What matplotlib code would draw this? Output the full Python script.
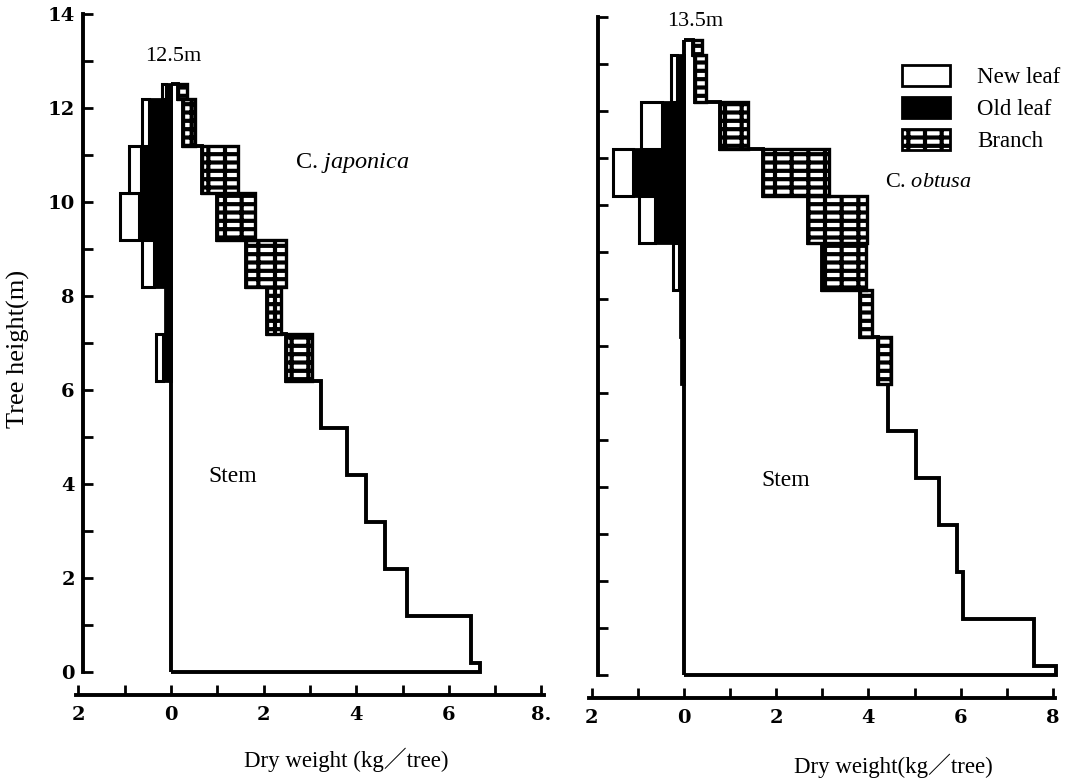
import matplotlib
matplotlib.use('Agg')
import matplotlib.pyplot as plt
from matplotlib.patches import Patch
from matplotlib.ticker import FixedLocator, MultipleLocator
import numpy as np

plt.rcParams['font.family'] = ['Liberation Serif', 'Noto Sans CJK JP']
plt.rcParams['mathtext.fontset'] = 'custom'
plt.rcParams['mathtext.rm'] = 'Liberation Serif'
plt.rcParams['mathtext.it'] = 'Liberation Serif:italic'
plt.rcParams['hatch.linewidth'] = 3.0

# ---------------- data ----------------
jap_edges = [0, 0.2, 1.2, 2.2, 3.2, 4.2, 5.2, 6.2, 7.2, 8.2, 9.2, 10.2, 11.2, 12.2, 12.5]
jap_stem = [6.68, 6.49, 5.09, 4.63, 4.22, 3.81, 3.25, 2.48, 2.07, 1.62, 0.99, 0.67, 0.26, 0.15]
jap_branch = [0, 0, 0, 0, 0, 0, 0, 0.56, 0.30, 0.86, 0.82, 0.77, 0.26, 0.20]
jap_old = [0, 0, 0, 0, 0, 0, 0, 0.18, 0.13, 0.37, 0.69, 0.65, 0.47, 0.10]
jap_new = [0, 0, 0, 0, 0, 0, 0, 0.15, 0.0, 0.26, 0.41, 0.26, 0.15, 0.10]

obt_edges = [0, 0.2, 1.2, 2.2, 3.2, 4.2, 5.2, 6.2, 7.2, 8.2, 9.2, 10.2, 11.2, 12.2, 13.2, 13.5]
obt_stem = [8.07, 7.59, 6.05, 5.92, 5.53, 5.03, 4.43, 4.21, 3.82, 3.00, 2.69, 1.71, 0.78, 0.24, 0.20]
obt_branch = [0, 0, 0, 0, 0, 0, 0, 0.28, 0.26, 0.95, 1.28, 1.43, 0.61, 0.24, 0.18]
obt_old = [0, 0, 0, 0, 0, 0, 0, 0.06, 0.08, 0.11, 0.63, 1.10, 0.48, 0.15, 0]
obt_new = [0, 0, 0, 0, 0, 0, 0, 0, 0, 0.13, 0.35, 0.43, 0.46, 0.13, 0]

y_ticks = [0, 2, 4, 6, 8, 10, 12, 14]
x_ticks = [-2, 0, 2, 4, 6, 8]
jap_xlabels = ['2', '0', '2', '4', '6', '8.']
obt_xlabels = ['2', '0', '2', '4', '6', '8']

W, H = 1072, 783
fig = plt.figure(figsize=(W / 100, H / 100), dpi=100)


def make_axes(zero_px, px_kg, y0_px, px_m, xlim, ylim):
    left = zero_px + xlim[0] * px_kg
    width = (xlim[1] - xlim[0]) * px_kg
    top = y0_px - ylim[1] * px_m
    height = (ylim[1] - ylim[0]) * px_m
    bottom = H - (top + height)
    ax = fig.add_axes([left / W, bottom / H, width / W, height / H])
    ax.set_xlim(*xlim)
    ax.set_ylim(*ylim)
    ax.patch.set_alpha(0)
    return ax


def draw(ax, edges, stem, branch, old, new):
    edges = np.array(edges)
    stem = np.array(stem)
    branch = np.array(branch)
    old = np.array(old)
    new = np.array(new)
    bottoms = edges[:-1]
    heights = np.diff(edges)
    ax.stairs(stem, edges, orientation='horizontal', baseline=0,
              color='black', lw=2.8, zorder=2)
    ax.vlines(0, 0, edges[-1], color='black', lw=2.8, zorder=2)
    m = branch > 0
    ax.barh(bottoms[m], branch[m], height=heights[m], left=stem[m], align='edge',
            facecolor='white', edgecolor='black', hatch='--|', lw=2.4, zorder=3)
    m = old > 0
    ax.barh(bottoms[m], old[m], height=heights[m], left=-old[m], align='edge',
            facecolor='black', edgecolor='black', lw=2.0, zorder=3)
    m = new > 0
    ax.barh(bottoms[m], new[m], height=heights[m], left=-(old[m] + new[m]), align='edge',
            facecolor='white', edgecolor='black', lw=2.2, zorder=3)


def style(ax, spine_x, spine_y, xlabels, show_ylabels):
    for s in ['top', 'right']:
        ax.spines[s].set_visible(False)
    ax.spines['left'].set_position(('data', spine_x))
    ax.spines['left'].set_bounds(0, 14)
    ax.spines['bottom'].set_position(('data', spine_y))
    ax.spines['bottom'].set_bounds(-2.05, 8.05)
    for s in ['left', 'bottom']:
        ax.spines[s].set_linewidth(2.8)
    ax.yaxis.set_major_locator(FixedLocator(y_ticks))
    ax.yaxis.set_minor_locator(MultipleLocator(1))
    ax.xaxis.set_major_locator(FixedLocator(x_ticks))
    ax.xaxis.set_minor_locator(MultipleLocator(1))
    ax.set_xticklabels(xlabels)
    ax.tick_params(which='both', direction='in', length=7, width=2)
    ax.tick_params(axis='x', pad=8)
    ax.tick_params(axis='y', pad=6)
    if show_ylabels:
        ax.set_yticklabels([str(v) for v in y_ticks])
    else:
        ax.set_yticklabels([])
    for lab in ax.get_xticklabels() + ax.get_yticklabels():
        lab.set_fontfamily('DejaVu Serif')
        lab.set_fontweight('bold')
        lab.set_fontsize(14)


ax1 = make_axes(171, 46.3, 672, 47.0, (-2.1, 8.2), (-0.6, 14.2))
draw(ax1, jap_edges, jap_stem, jap_branch, jap_old, jap_new)
style(ax1, -1.9, -0.48, jap_xlabels, True)
ax1.text(0.05, 13.1, '12.5m', fontsize=16, ha='center', va='center')
ax1.text(2.68, 10.83, r'C. $\mathit{japonica}$', fontsize=17.5, ha='left', va='center')
ax1.text(0.8, 4.15, 'Stem', fontsize=17, ha='left', va='center')

ax2 = make_axes(684, 46.1, 675, 47.0, (-2.1, 8.3), (-0.6, 14.2))
draw(ax2, obt_edges, obt_stem, obt_branch, obt_old, obt_new)
style(ax2, -1.87, -0.48, obt_xlabels, False)
ax2.text(0.24, 13.9, '13.5m', fontsize=16, ha='center', va='center')
ax2.text(4.36, 10.47, r'C. $\mathit{obtusa}$', fontsize=16, ha='left', va='center')
ax2.text(1.67, 4.13, 'Stem', fontsize=17, ha='left', va='center')

handles = [Patch(facecolor='white', edgecolor='black', lw=2, label='New leaf'),
           Patch(facecolor='black', edgecolor='black', lw=2, label='Old leaf'),
           Patch(facecolor='white', edgecolor='black', lw=2, hatch='--|', label='Branch')]
ax2.legend(handles=handles, loc='upper left', bbox_to_anchor=(897 / W, 1 - 60 / H),
           bbox_transform=fig.transFigure, frameon=False, fontsize=16.5,
           handlelength=2.1, handleheight=1.05, labelspacing=0.38, handletextpad=1.2,
           borderaxespad=0, borderpad=0.2)

fig.text(18 / W, 1 - 349 / H, 'Tree height(m)', rotation=90, fontsize=19,
         ha='center', va='center')
fig.text(346 / W, 1 - 760 / H, 'Dry weight (kg／tree)', fontsize=16.5, ha='center', va='center')
fig.text(893 / W, 1 - 766 / H, 'Dry weight(kg／tree)', fontsize=16.5, ha='center', va='center')

fig.savefig('out.png', dpi=100)
